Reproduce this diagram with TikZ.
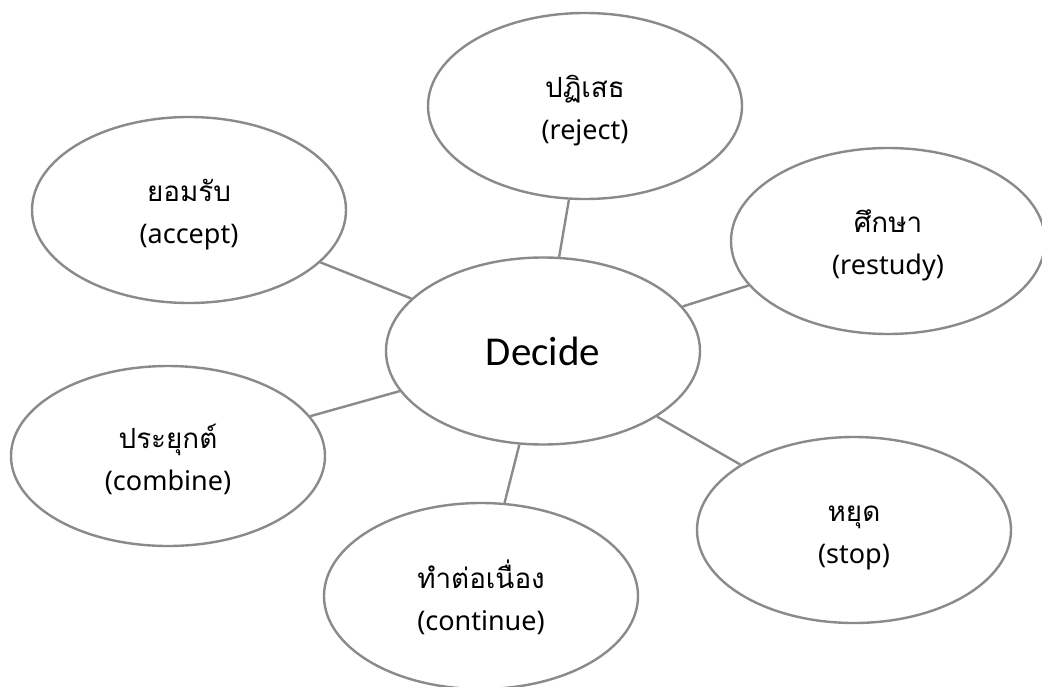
\documentclass[tikz,border=0pt]{standalone}
\usepackage{fontspec}
\setmainfont{Noto Sans}
\newfontfamily\thaifont[Script=Thai,Scale=1.03]{Loma}
\newfontfamily\decfont{Carlito}
\usetikzlibrary{shapes.geometric}
\definecolor{edgegray}{RGB}{138,138,138}
\newcommand{\lowstrut}{\rule{0pt}{31pt}}
\tikzset{
  bub/.style={ellipse, draw=edgegray, line width=2.4pt, fill=white,
    minimum width=314pt, minimum height=186pt, inner sep=0pt,
    align=center, font=\fontsize{27}{42}\selectfont},
  link/.style={draw=edgegray, line width=2.4pt}
}
\begin{document}
\begin{tikzpicture}[x=1pt,y=-1pt]
\useasboundingbox (0,0) rectangle (1042,686);
\clip (0,0) rectangle (1042,686);
\node[bub, minimum height=187pt] (dec) at (543,351) {\decfont\fontsize{41}{44}\selectfont Decide};
\node[bub] (rej) at (585,106) {\lowstrut{\thaifont ปฏิเสธ}\\(reject)};
\node[bub] (acc) at (189,210) {\lowstrut{\thaifont ยอมรับ}\\(accept)};
\node[bub] (res) at (888,241) {\lowstrut{\thaifont ศึกษา}\\(restudy)};
\node[bub, minimum height=180pt] (com) at (168,456) {\lowstrut{\thaifont ประยุกต์}\\(combine)};
\node[bub] (stp) at (854,530) {\lowstrut{\thaifont หยุด}\\(stop)};
\node[bub] (con) at (481,596) {\lowstrut{\thaifont ทำต่อเนื่อง}\\(continue)};
\path[link] (dec) -- (rej);
\path[link] (dec) -- (acc);
\path[link] (dec) -- (res);
\path[link] (dec) -- (com);
\path[link] (dec) -- (stp);
\path[link] (dec) -- (con);
\end{tikzpicture}
\end{document}
